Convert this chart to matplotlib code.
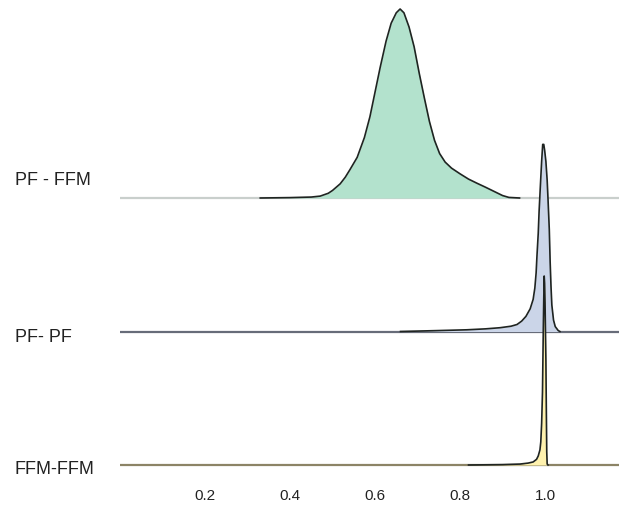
import numpy as np
import matplotlib.pyplot as plt
from matplotlib import font_manager

# densities, as a fraction of each row's peak height
labels = ['PF - FFM', 'PF- PF', 'FFM-FFM']

x_pf_ffm = [0.33, 0.40, 0.45, 0.471, 0.49, 0.50, 0.518, 0.530, 0.541, 0.558, 0.575, 0.588,
            0.600, 0.612, 0.626, 0.638, 0.650, 0.659, 0.668, 0.680, 0.692, 0.704,
            0.716, 0.728, 0.740, 0.752, 0.765, 0.78, 0.80, 0.82, 0.84, 0.86, 0.88,
            0.90, 0.915, 0.94]
d_pf_ffm = [0.0, 0.002, 0.005, 0.01, 0.025, 0.04, 0.075, 0.11, 0.15, 0.215, 0.32, 0.43,
            0.56, 0.69, 0.83, 0.925, 0.98, 1.0, 0.98, 0.905, 0.80, 0.66,
            0.53, 0.405, 0.305, 0.235, 0.19, 0.158, 0.128, 0.10, 0.078, 0.057, 0.035,
            0.013, 0.003, 0.0]

x_pf_pf = [0.66, 0.75, 0.816, 0.86, 0.894, 0.92, 0.934, 0.945, 0.955, 0.965, 0.972,
           0.976, 0.979, 0.981, 0.984, 0.986, 0.989, 0.992, 0.9945, 0.997, 0.999,
           1.002, 1.005, 1.007, 1.010, 1.012, 1.014, 1.016, 1.020, 1.024, 1.031, 1.035]
d_pf_pf = [0.0, 0.005, 0.009, 0.014, 0.02, 0.028, 0.037, 0.055, 0.08, 0.12, 0.17,
           0.23, 0.31, 0.40, 0.52, 0.635, 0.77, 0.90, 0.99, 0.99, 0.96,
           0.90, 0.80, 0.70, 0.54, 0.37, 0.24, 0.14, 0.06, 0.026, 0.005, 0.0]

x_ffm_ffm = [0.82, 0.90, 0.941, 0.960, 0.972, 0.980, 0.984, 0.988, 0.990, 0.992,
             0.994, 0.995, 0.996, 0.997, 0.998, 0.999, 1.000, 1.001, 1.002, 1.003,
             1.004, 1.005, 1.007]
d_ffm_ffm = [0.0, 0.002, 0.005, 0.010, 0.016, 0.03, 0.048, 0.08, 0.122, 0.22,
             0.386, 0.56, 0.735, 0.88, 1.0, 0.96, 0.86, 0.71, 0.56, 0.30,
             0.07, 0.005, 0.0]

xs = [x_pf_ffm, x_pf_pf, x_ffm_ffm]
ds = [d_pf_ffm, d_pf_pf, d_ffm_ffm]
ticks = [0.2, 0.4, 0.6, 0.8, 1.0]

fills = ['#b3e2cd', '#cbd5e8', '#fff2ae']
bases = ['#c9cfcc', '#676c79', '#8c8466']

names = [f.name for f in font_manager.fontManager.ttflist]
if 'Liberation Sans Narrow' in names:
    lab_font, lab_size = 'Liberation Sans Narrow', 15.5
else:
    lab_font, lab_size = 'Liberation Sans', 13

fig = plt.figure(figsize=(6.19, 5.06), dpi=100)
ax = fig.add_axes([120 / 619, 1 - 480 / 506, 499 / 619, 480 / 506])

scale = 189 / 133.5
for i in range(3):
    off = 2 - i
    x = np.array(xs[i])
    y = np.array(ds[i]) * scale + off
    z = 10 * (i + 1)
    ax.axhline(off, color=bases[i], lw=1.6, zorder=z)
    ax.fill_between(x, off, y, color=fills[i], lw=0, zorder=z + 1)
    ax.plot(x, y, color='#1f2421', lw=1.2, zorder=z + 2, solid_joinstyle='round')

ax.set_xlim(0, 1.174)
ax.set_ylim(-14 / 133.5, 466 / 133.5)
ax.set_xticks(ticks)
ax.set_xticklabels(['%.1f' % t for t in ticks], fontsize=11, family='Liberation Sans', color='#222222')
ax.tick_params(axis='x', length=0, pad=6.5)
ax.set_yticks([])
for s in ax.spines.values():
    s.set_visible(False)

lab_y = [181, 337, 470]
for lab, yy in zip(labels, lab_y):
    fig.text(15 / 619, 1 - yy / 506, lab, ha='left', va='center',
             family=lab_font, fontsize=lab_size, color='#222222')

fig.savefig('out.png', dpi=100)
